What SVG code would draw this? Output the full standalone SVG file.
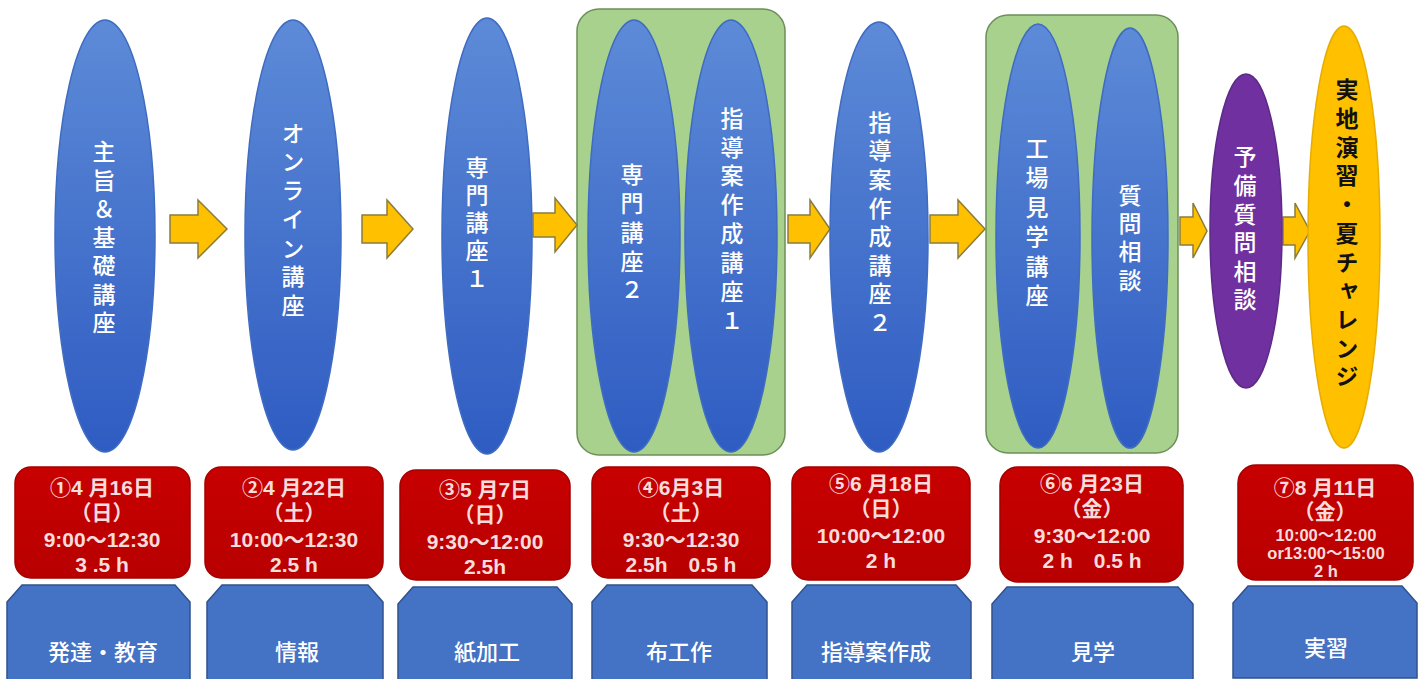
<svg xmlns="http://www.w3.org/2000/svg" width="1424" height="679" viewBox="0 0 1424 679">
<defs>
<linearGradient id="gBlue" x1="0" y1="0" x2="0" y2="1">
<stop offset="0" stop-color="#5d8bd8"/>
<stop offset="0.5" stop-color="#4673cc"/>
<stop offset="1" stop-color="#2f5cc2"/>
</linearGradient>
<linearGradient id="gRed" x1="0" y1="0" x2="0" y2="1">
<stop offset="0" stop-color="#c80000"/>
<stop offset="1" stop-color="#b80000"/>
</linearGradient>
</defs>
<style>
.ell{fill:url(#gBlue);stroke:#3f6cc0;stroke-width:1.5}
.grp{fill:#a9d18e;stroke:#6d8f58;stroke-width:1.5}
.arr{fill:#ffc000;stroke:#8a7c3c;stroke-width:1.5}
.date{fill:url(#gRed);stroke:#a40000;stroke-width:1.5}
.cat{fill:#4472c4;stroke:#2f528f;stroke-width:1.5}
.vt{font-family:"Noto Sans CJK JP","Noto Sans CJK SC",sans-serif;font-size:23px;fill:#ffffff;text-anchor:middle;font-weight:500;writing-mode:vertical-rl;text-orientation:upright}
.vtb{font-family:"Noto Sans CJK JP","Noto Sans CJK SC",sans-serif;font-size:23px;fill:#111111;text-anchor:middle;font-weight:bold;writing-mode:vertical-rl;text-orientation:upright}
.dt{font-family:"Liberation Sans","Noto Sans CJK JP",sans-serif;font-size:21px;fill:#f7dcdc;text-anchor:middle;font-weight:bold}
.ds{font-family:"Liberation Sans","Noto Sans CJK JP",sans-serif;font-size:16.5px;fill:#f7dcdc;text-anchor:middle;font-weight:bold}
.ct{font-family:"Noto Sans CJK JP","Noto Sans CJK SC",sans-serif;font-size:22px;fill:#ffffff;text-anchor:middle;font-weight:500}
</style>
<rect width="1424" height="679" fill="#ffffff"/>

<g id="group-box-1"><rect class="grp" x="577" y="9" width="208" height="446" rx="22"/></g>
<g id="group-box-2"><rect class="grp" x="986" y="15" width="192" height="438" rx="22"/></g>

<g id="connectors">
<path class="arr" d="M170,215 H198 V200 L227,229 L198,258 V243 H170 Z"/>
<path class="arr" d="M362,215 H387 V200 L413,229 L387,258 V243 H362 Z"/>
<path class="arr" d="M533,213 H555 V198 L577,225 L555,252 V237 H533 Z"/>
<path class="arr" d="M788,215 H810 V200 L830,229 L810,258 V243 H788 Z"/>
<path class="arr" d="M930,215 H958 V200 L985,229 L958,258 V243 H930 Z"/>
<path class="arr" d="M1180,217 H1193 V203 L1207,231 L1193,258 V245 H1180 Z"/>
<path class="arr" d="M1283,217 H1295 V203 L1310,231 L1295,258 V245 H1283 Z"/>
</g>

<g id="node-1">
<ellipse class="ell" cx="105" cy="236" rx="50" ry="216"/>
<text class="vt" x="104" y="240" letter-spacing="5.5">主旨＆基礎講座</text>
</g>
<g id="node-2">
<ellipse class="ell" cx="293" cy="235" rx="48" ry="215"/>
<text class="vt" x="293" y="222" letter-spacing="5.7">オンライン講座</text>
</g>
<g id="node-3">
<ellipse class="ell" cx="487" cy="236" rx="45" ry="218"/>
<text class="vt" x="477" y="225" letter-spacing="4.8">専門講座１</text>
</g>
<g id="node-4a">
<ellipse class="ell" cx="634" cy="236" rx="46" ry="216"/>
<text class="vt" x="632" y="235" letter-spacing="5.7">専門講座２</text>
</g>
<g id="node-4b">
<ellipse class="ell" cx="731" cy="236" rx="46" ry="216"/>
<text class="vt" x="732" y="222" letter-spacing="5.9">指導案作成講座１</text>
</g>
<g id="node-5">
<ellipse class="ell" cx="879" cy="237" rx="49" ry="215"/>
<text class="vt" x="880" y="225" letter-spacing="5.6">指導案作成講座２</text>
</g>
<g id="node-6a">
<ellipse class="ell" cx="1038" cy="236" rx="42" ry="212"/>
<text class="vt" x="1037" y="225" letter-spacing="6.4">工場見学講座</text>
</g>
<g id="node-6b">
<ellipse class="ell" cx="1130" cy="238" rx="38" ry="210"/>
<text class="vt" x="1130" y="240" letter-spacing="5.3">質問相談</text>
</g>
<g id="node-prep">
<ellipse cx="1246" cy="231" rx="36" ry="157" fill="#7030a0" stroke="#5e2a88" stroke-width="1.5"/>
<text class="vt" x="1245" y="231" letter-spacing="5.6">予備質問相談</text>
</g>
<g id="node-practice">
<ellipse cx="1344" cy="237" rx="36" ry="211" fill="#ffc000" stroke="#e6ad00" stroke-width="1.5"/>
<text class="vtb" x="1347" y="236" letter-spacing="5.7">実地演習・夏チャレンジ</text>
</g>

<g id="date-1">
<rect class="date" x="15" y="467" width="175" height="111" rx="16"/>
<text class="dt"><tspan x="102" y="495">①4 月16日</tspan><tspan x="102" y="520">（日）</tspan><tspan x="102" y="547">9:00～12:30</tspan><tspan x="102" y="572">3 .5 h</tspan></text>
</g>
<g id="date-2">
<rect class="date" x="205" y="467" width="178" height="111" rx="16"/>
<text class="dt"><tspan x="294" y="495">②4 月22日</tspan><tspan x="294" y="520">（土）</tspan><tspan x="294" y="547">10:00～12:30</tspan><tspan x="294" y="572">2.5 h</tspan></text>
</g>
<g id="date-3">
<rect class="date" x="400" y="470" width="170" height="110" rx="16"/>
<text class="dt"><tspan x="485" y="497">③5 月7日</tspan><tspan x="485" y="522">（日）</tspan><tspan x="485" y="549">9:30～12:00</tspan><tspan x="485" y="574">2.5h</tspan></text>
</g>
<g id="date-4">
<rect class="date" x="592" y="467" width="178" height="111" rx="16"/>
<text class="dt"><tspan x="681" y="495">④6月3日</tspan><tspan x="681" y="520">（土）</tspan><tspan x="681" y="547">9:30～12:30</tspan><tspan x="681" y="572">2.5h　0.5 h</tspan></text>
</g>
<g id="date-5">
<rect class="date" x="792" y="467" width="178" height="113" rx="16"/>
<text class="dt"><tspan x="881" y="491">⑤6 月18日</tspan><tspan x="881" y="516">（日）</tspan><tspan x="881" y="543">10:00～12:00</tspan><tspan x="881" y="568">2 h</tspan></text>
</g>
<g id="date-6">
<rect class="date" x="1000" y="467" width="183" height="115" rx="18"/>
<text class="dt"><tspan x="1092" y="491">⑥6 月23日</tspan><tspan x="1092" y="516">（金）</tspan><tspan x="1092" y="543">9:30～12:00</tspan><tspan x="1092" y="568">2 h　0.5 h</tspan></text>
</g>
<g id="date-7">
<rect class="date" x="1238" y="465" width="175" height="115" rx="18"/>
<text class="dt"><tspan x="1325" y="495">⑦8 月11日</tspan><tspan x="1325" y="519">（金）</tspan></text>
<text class="ds"><tspan x="1326" y="541">10:00～12:00</tspan><tspan x="1326" y="559">or13:00～15:00</tspan><tspan x="1326" y="577">2 h</tspan></text>
</g>

<g id="cat-1">
<path class="cat" d="M7,602 L22,585 H175 L190,602 V685 H7 Z"/>
<text class="ct" x="103" y="660">発達・教育</text>
</g>
<g id="cat-2">
<path class="cat" d="M207,602 L222,585 H368 L383,602 V685 H207 Z"/>
<text class="ct" x="297" y="660">情報</text>
</g>
<g id="cat-3">
<path class="cat" d="M398,604 L413,587 H557 L572,604 V685 H398 Z"/>
<text class="ct" x="487" y="660">紙加工</text>
</g>
<g id="cat-4">
<path class="cat" d="M592,602 L607,585 H752 L767,602 V685 H592 Z"/>
<text class="ct" x="679" y="660">布工作</text>
</g>
<g id="cat-5">
<path class="cat" d="M792,602 L807,585 H956 L971,602 V685 H792 Z"/>
<text class="ct" x="876" y="660">指導案作成</text>
</g>
<g id="cat-6">
<path class="cat" d="M992,604 L1007,587 H1178 L1193,604 V685 H992 Z"/>
<text class="ct" x="1093" y="660">見学</text>
</g>
<g id="cat-7">
<path class="cat" d="M1233,603 L1248,586 H1402 L1417,603 V678 H1233 Z"/>
<text class="ct" x="1326" y="656">実習</text>
</g>
</svg>
